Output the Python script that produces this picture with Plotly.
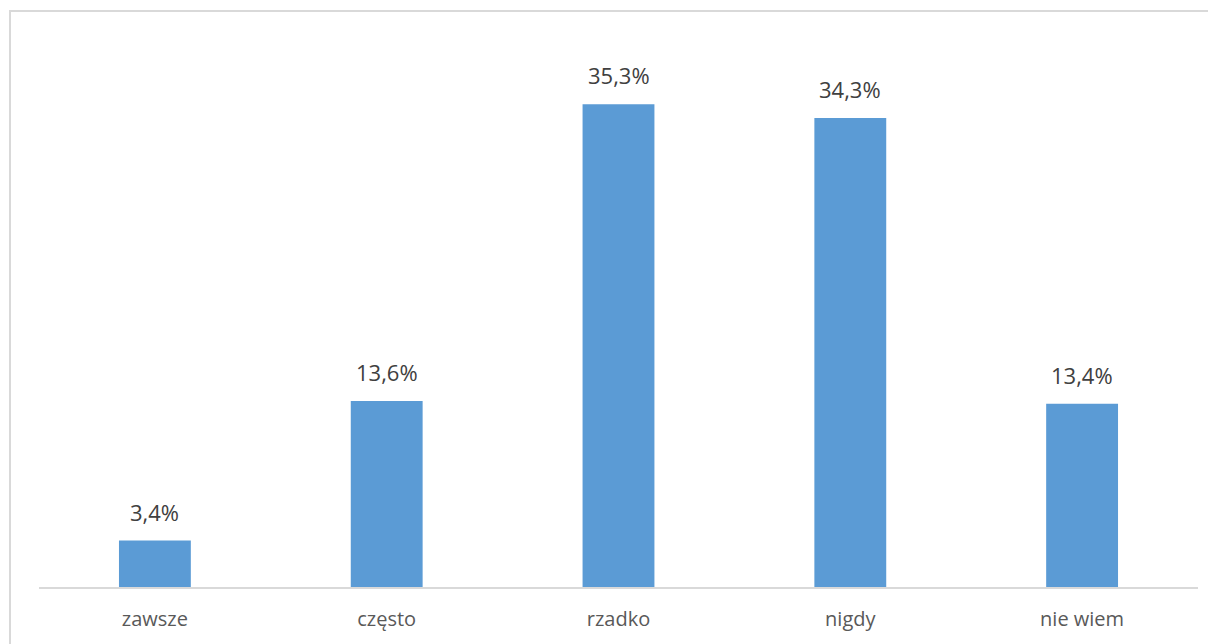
import plotly.graph_objects as go

categories = ["zawsze", "często", "rzadko", "nigdy", "nie wiem"]
values = [3.4, 13.6, 35.3, 34.3, 13.4]

# page body has an 8px margin, so the figure starts at (8, 8)
W, H = 1208, 636
ml, mr, mt, mb = 31, 18, 32, 57
pw, ph = W - ml - mr, H - mt - mb

fig = go.Figure()
fig.add_trace(go.Bar(
    x=categories, y=values,
    marker=dict(color="#5b9bd5", line=dict(width=0)),
    width=0.31,
    hoverinfo="skip",
))

for c, v in zip(categories, values):
    fig.add_annotation(
        x=c, y=v, text=f"{v:.1f}".replace(".", ",") + "%",
        showarrow=False, yanchor="bottom", yshift=12,
        font=dict(family="Open Sans", size=22, color="#404040"),
    )

# outer chart border (left and top visible)
fig.add_shape(
    type="rect", xref="paper", yref="paper",
    x0=(2 - ml) / pw, x1=(W + 30 - ml) / pw,
    y0=-(mb + 30) / ph, y1=1 + (mt - 3) / ph,
    line=dict(color="#d9d9d9", width=2), fillcolor="rgba(0,0,0,0)",
    layer="below",
)

fig.update_layout(
    width=W, height=H,
    margin=dict(l=ml, r=mr, t=mt, b=mb, autoexpand=False),
    plot_bgcolor="white", paper_bgcolor="white",
    showlegend=False,
    xaxis=dict(
        showline=True, linecolor="#d9d9d9", linewidth=2,
        ticks="", showgrid=False, zeroline=False, automargin=False,
        tickfont=dict(family="Open Sans", size=20, color="#595959"),
        ticklabelstandoff=13,
    ),
    yaxis=dict(
        range=[0, 40], visible=False, showgrid=False, zeroline=False,
        automargin=False,
    ),
)

fig.write_html("out.html")
